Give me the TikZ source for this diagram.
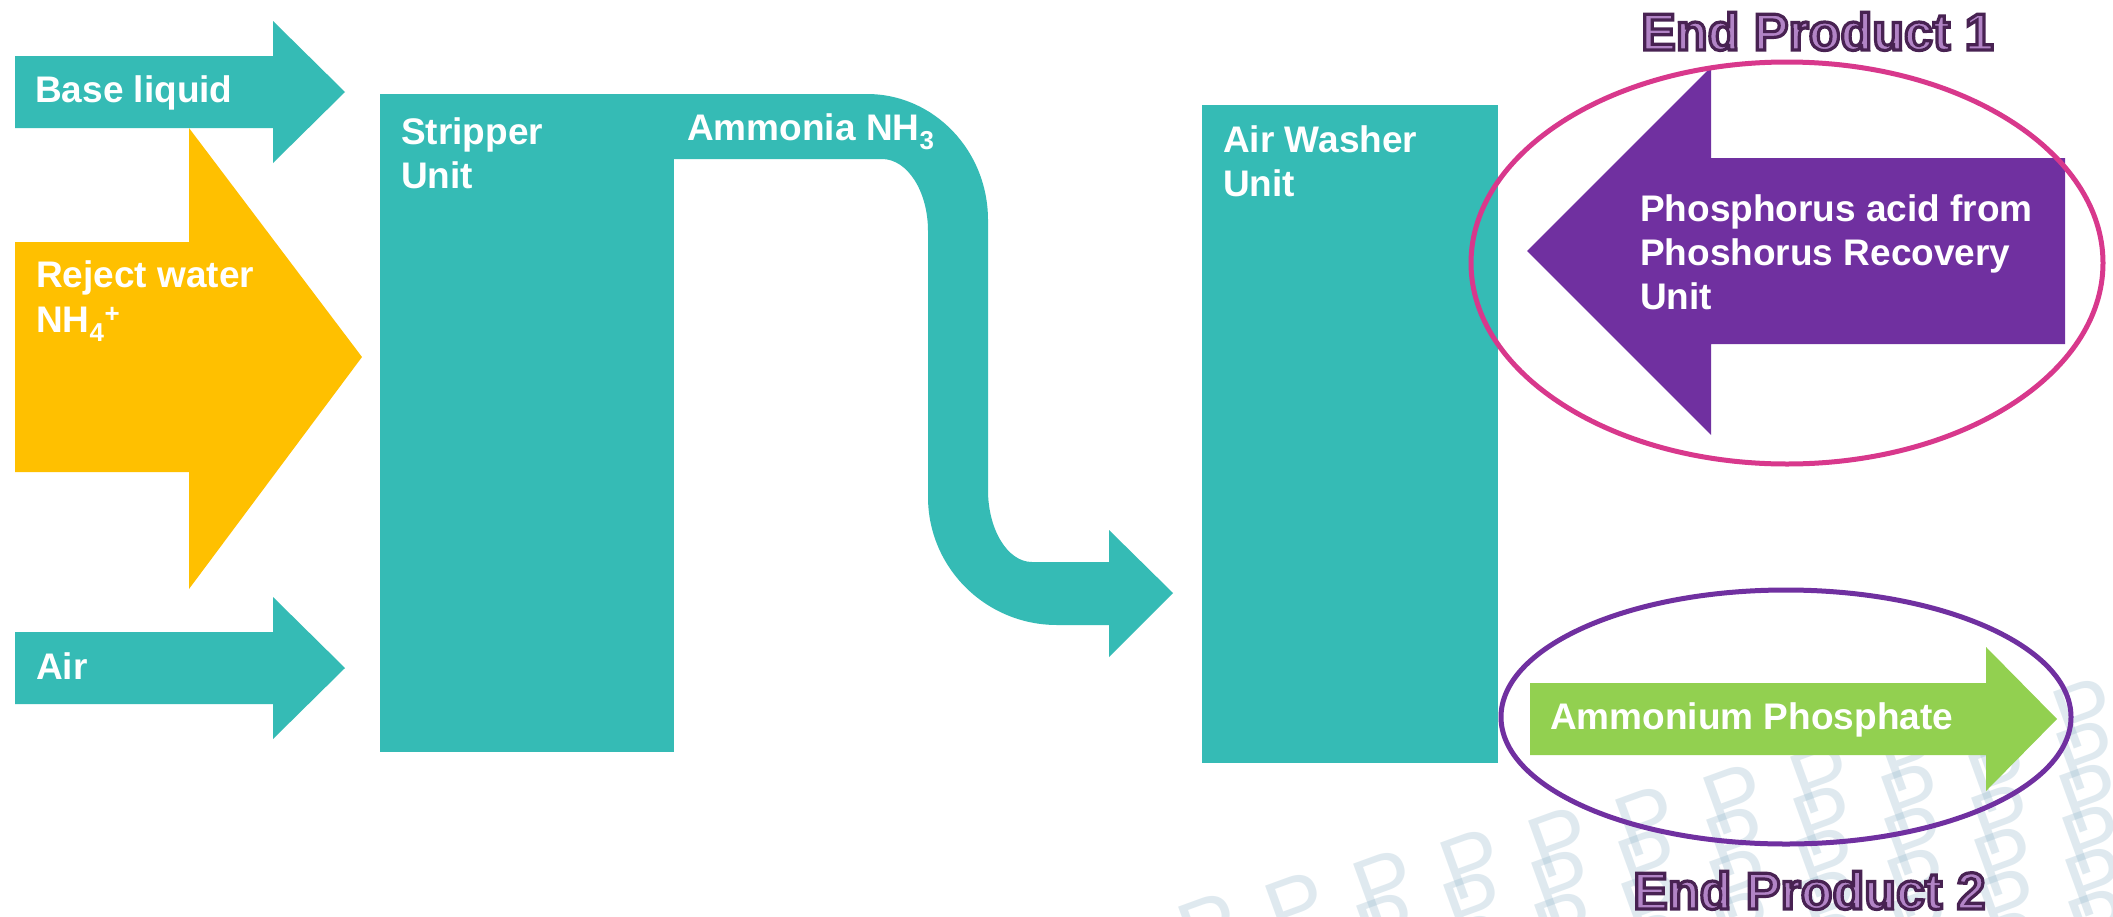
\documentclass[tikz,border=0pt]{standalone}
\usepackage{fontspec}
\setmainfont{Liberation Sans}
\usetikzlibrary{shapes.geometric}
\definecolor{teal2}{RGB}{53,187,181}
\definecolor{gold2}{RGB}{255,192,0}
\definecolor{violet2}{RGB}{112,48,160}
\definecolor{lime2}{RGB}{146,208,80}
\definecolor{pink2}{RGB}{216,56,140}
\definecolor{wmark}{RGB}{150,185,205}
\definecolor{epfill}{RGB}{178,132,198}
\newcommand{\outlinedtext}[1]{\special{pdf:literal direct 2 Tr 3.2 w 0.282 0.133 0.322 RG}#1\special{pdf:literal direct 0 Tr}}
\tikzset{
  lbl/.style={anchor=base west, inner sep=0pt, text=white, font=\bfseries\fontsize{37}{44}\selectfont},
  unitbox/.style={fill=teal2, draw=none, anchor=north west, inner sep=0pt, outer sep=0pt},
  wm/.style={inner sep=0pt, text=wmark, text opacity=0.3, rotate=20, font=\fontsize{88}{88}\selectfont},
  eptxt/.style={anchor=base west, inner sep=0pt, text=epfill, font=\bfseries\fontsize{52}{60}\selectfont},
  ring/.style={ellipse, draw, line width=5pt, inner sep=0pt, outer sep=0pt},
}
\begin{document}
\begin{tikzpicture}[x=1pt,y=-1pt]
\useasboundingbox (0,0) rectangle (2113,916);
\fill[white] (0,0) rectangle (2113,916);

% watermark
\begin{scope}
\clip (0,0) rectangle (2113,916);
\foreach \i in {-5,...,8}{
  \foreach \j in {0,...,6}{
    \node[wm] (wm\i-\j) at ({1472+87.5*\i+3*\j},{864-21.5*\i+42*\j}) {P};
  }
}
\end{scope}

% input arrows
\fill[gold2] (15,242) -- (189,242) -- (189,128) -- (362,357) -- (189,589) -- (189,472) -- (15,472) -- cycle;
\fill[teal2] (15,56) -- (273,56) -- (273,21) -- (345,92) -- (273,163) -- (273,128) -- (15,128) -- cycle;
\fill[teal2] (15,632) -- (273,632) -- (273,597) -- (345,668) -- (273,739) -- (273,704) -- (15,704) -- cycle;

% units
\node[unitbox, minimum width=294pt, minimum height=658pt] (stripper) at (380,94) {};
\node[unitbox, minimum width=296pt, minimum height=658pt] (washer) at (1202,105) {};

% ammonia pipe
\fill[teal2] (stripper.north east) -- (867,94) .. controls (933.8,94) and (988,150.4) .. (988,220)
  -- (988,490) .. controls (988,529.8) and (1007.7,562) .. (1032,562)
  -- (1109,562) -- (1109,530) -- (1173,593) -- (1109,657) -- (1109,625)
  -- (1057,625) .. controls (985.8,625) and (928,567.7) .. (928,497)
  -- (928,231) .. controls (928,191.3) and (907.4,159) .. (882,159)
  -- (672,159) -- (672,94) -- cycle;

% output arrows
\fill[violet2] (2065,158) -- (1711,158) -- (1711,67) -- (1527,251) -- (1711,435) -- (1711,344) -- (2065,344) -- cycle;
\fill[lime2] (1530,683) -- (1986,683) -- (1986,647) -- (2057,719) -- (1986,791) -- (1986,755) -- (1530,755) -- cycle;

% rings
\node[ring, draw=pink2, minimum width=632pt, minimum height=402pt] (ring1) at (1787,263) {};
\node[ring, draw=violet2, minimum width=570pt, minimum height=254pt] (ring2) at (1786,717) {};

% labels
\node[lbl] (tbase) at (35,102) {Base liquid};
\node[lbl] (trej1) at (36,287) {Reject water};
\node[lbl] (trej2) at (36,332) {NH\textsubscript{4}\textsuperscript{+}};
\node[lbl] (tair) at (36,679) {Air};
\node[lbl] (tstr1) at (401,144) {Stripper};
\node[lbl] (tstr2) at (401,188) {Unit};
\node[lbl] (tamm) at (687,140) {Ammonia NH\textsubscript{3}};
\node[lbl] (twas1) at (1223,152) {Air Washer};
\node[lbl] (twas2) at (1223,196) {Unit};
\node[lbl] (tph1) at (1640,221) {Phosphorus acid from};
\node[lbl] (tph2) at (1640,265) {Phoshorus Recovery};
\node[lbl] (tph3) at (1640,309) {Unit};
\node[lbl] (tamp) at (1550,729) {Ammonium Phosphate};

% end product titles
\node[eptxt] (ep1) at (1641,50) {\outlinedtext{End Product 1}};
\node[eptxt] (ep2) at (1633,909) {\outlinedtext{End Product 2}};
\end{tikzpicture}
\end{document}
